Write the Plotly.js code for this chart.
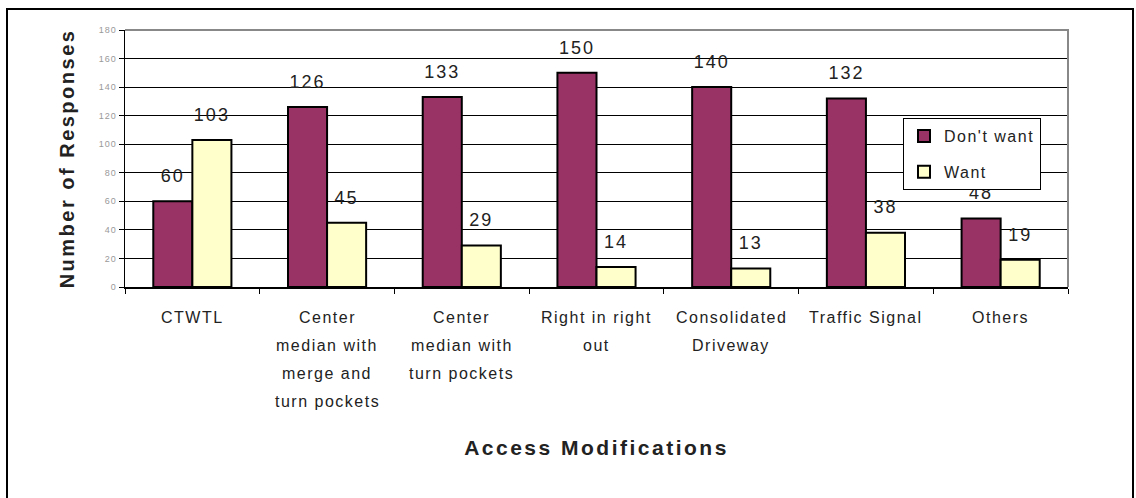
<!DOCTYPE html>
<html>
<head>
<meta charset="utf-8">
<script src="https://cdn.plot.ly/plotly-3.0.1.min.js"></script>
<style>
  html, body { margin: 0; padding: 0; background: #fff; }
  #chart { width: 1136px; height: 498px; }
  .annotation-text { letter-spacing: 1.5px; }
  .textpoint text { letter-spacing: 2px; }
  .xtitle, .ytitle { letter-spacing: 2.5px; }
  .legendtext { letter-spacing: 1.5px; }
  .ytick text { letter-spacing: 1px; }
</style>
</head>
<body>
<div id="chart"></div>
<script>
// ---- data ----
const categories = ['CTWTL', 'Center median with merge and turn pockets', 'Center median with turn pockets',
                    'Right in right out', 'Consolidated Driveway', 'Traffic Signal', 'Others'];
const tickLines = [
  ['CTWTL'],
  ['Center', 'median with', 'merge and', 'turn pockets'],
  ['Center', 'median with', 'turn pockets'],
  ['Right in right', 'out'],
  ['Consolidated', 'Driveway'],
  ['Traffic Signal'],
  ['Others']
];
const dontWant = [60, 126, 133, 150, 140, 132, 48];
const want = [103, 45, 29, 14, 13, 38, 19];
const seriesNames = ["Don't want", 'Want'];
const yTicks = [0, 20, 40, 60, 80, 100, 120, 140, 160, 180];

// ---- styling ----
const FONT = 'Arial, "Liberation Sans", sans-serif';
const colDont = '#993366';
const colWant = '#FFFFCC';
const gap = 0.42;

const labelTrace = (vals) => ({
  type: 'scatter', mode: 'markers+text', x: categories, y: vals, text: vals.map(String),
  textposition: 'top center', textfont: { family: FONT, size: 18, color: '#222' },
  marker: { size: 22, color: 'rgba(0,0,0,0)', opacity: 0, line: { width: 0 } },
  showlegend: false, cliponaxis: false, hoverinfo: 'skip'
});

const traces = [
  {
    type: 'bar', name: seriesNames[0], x: categories, y: dontWant,
    marker: { color: colDont, line: { color: '#000', width: 2 } },
    legendgroup: 'a', hoverinfo: 'skip'
  },
  {
    type: 'bar', name: seriesNames[1], x: categories, y: want,
    marker: { color: colWant, line: { color: '#000', width: 2 } },
    legendgroup: 'b', hoverinfo: 'skip'
  },
  labelTrace(dontWant),
  labelTrace(want)
];

const annotations = [];
tickLines.forEach((lines, i) => {
  lines.forEach((ln, j) => {
    annotations.push({
      x: categories[i], xref: 'x', y: 0, yref: 'paper',
      text: ln, showarrow: false, xanchor: 'center', yanchor: 'middle',
      yshift: -30 - j * 28,
      font: { family: FONT, size: 16, color: '#222' }
    });
  });
});

const L = 125, R = 68, T = 30, B = 211;
const pw = 1136 - L - R, ph = 498 - T - B;

const layout = {
  width: 1136, height: 498,
  margin: { l: L, r: R, t: T, b: B },
  paper_bgcolor: '#fff', plot_bgcolor: '#fff',
  barmode: 'group', bargap: gap, bargroupgap: 0,
  scattermode: 'group', scattergap: gap,
  font: { family: FONT, color: '#222' },
  showlegend: true,
  legend: {
    x: (903 - L) / pw, y: (287 - 118) / ph, xanchor: 'left', yanchor: 'top',
    bgcolor: '#fff', bordercolor: '#000', borderwidth: 1,
    font: { family: FONT, size: 16, color: '#222' },
    traceorder: 'grouped', tracegroupgap: 12
  },
  xaxis: {
    type: 'category', showticklabels: false,
    showline: true, linecolor: '#000', linewidth: 1.5,
    ticks: 'outside', tickson: 'boundaries', ticklen: 5, tickcolor: '#000', tickwidth: 1,
    showgrid: false, fixedrange: true,
    title: { text: 'Access Modifications', standoff: 153,
             font: { family: FONT, size: 21, color: '#222', weight: 'bold' } }
  },
  yaxis: {
    range: [0, 180], tickvals: yTicks, ticktext: yTicks.map(String),
    showline: true, linecolor: '#000', linewidth: 1.5,
    ticks: 'outside', ticklen: 5, tickcolor: '#000', tickwidth: 1,
    tickfont: { family: FONT, size: 9, color: '#999' },
    showgrid: true, gridcolor: '#000', gridwidth: 1, zeroline: false, fixedrange: true,
    title: { text: 'Number of Responses', standoff: 18,
             font: { family: FONT, size: 20, color: '#222', weight: 'bold' } }
  },
  shapes: [
    { type: 'path', xref: 'paper', yref: 'paper', path: 'M 0,1 L 1,1 L 1,0',
      line: { color: '#888', width: 2 }, layer: 'above' },
    { type: 'rect', xref: 'paper', yref: 'paper',
      x0: (7 - L) / pw, x1: (1133 - L) / pw, y0: (287 - 520) / ph, y1: (287 - 9) / ph,
      line: { color: '#000', width: 2 }, fillcolor: 'rgba(0,0,0,0)', layer: 'above' }
  ],
  annotations: annotations
};

Plotly.newPlot('chart', traces, layout, { displayModeBar: false, staticPlot: true });
</script>
</body>
</html>
